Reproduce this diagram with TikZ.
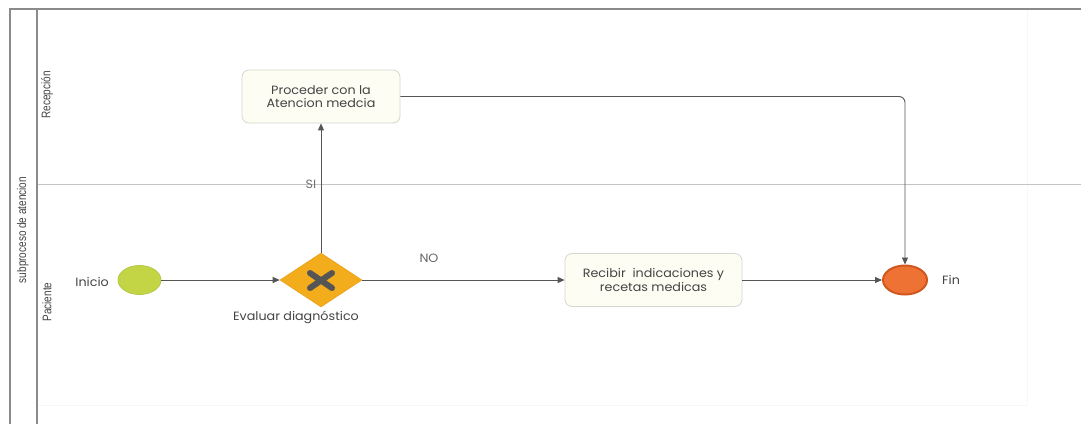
\documentclass[tikz,border=0pt]{standalone}
\usepackage{fontspec}
\setmainfont[FakeStretch=1.06]{Poppins}
\newfontfamily\lanefont[FakeStretch=0.8]{Liberation Sans}
\usetikzlibrary{arrows.meta,shapes.geometric}
\definecolor{linegray}{HTML}{555555}
\definecolor{framegray}{HTML}{8A8A8A}
\definecolor{lanegray}{HTML}{C4C4C4}
\definecolor{taskfill}{HTML}{FDFDF3}
\definecolor{taskdraw}{HTML}{D6D6D0}
\definecolor{startfill}{HTML}{C3D544}
\definecolor{startdraw}{HTML}{B5C74A}
\definecolor{gatefill}{HTML}{F2AC1C}
\definecolor{gatedraw}{HTML}{E8A41C}
\definecolor{endfill}{HTML}{EF7235}
\definecolor{enddraw}{HTML}{D0581E}
\definecolor{textgray}{HTML}{444444}
\tikzset{
  task/.style={draw=taskdraw, fill=taskfill, rounded corners=7pt, line width=0.8pt,
    minimum width=158pt, minimum height=53pt, align=center, text=textgray,
    font=\fontsize{12}{13.5}\selectfont, inner sep=0pt},
  startev/.style={ellipse, fill=startfill, draw=startdraw, line width=0.8pt,
    minimum width=43pt, minimum height=29pt, inner sep=0pt},
  endev/.style={ellipse, fill=endfill, draw=enddraw, line width=2pt,
    minimum width=44pt, minimum height=29pt, inner sep=0pt},
  gateway/.style={diamond, fill=gatefill, draw=gatedraw, line width=0.6pt,
    minimum width=82pt, minimum height=54pt, aspect=1.52, inner sep=0pt},
  flow/.style={draw=linegray, line width=0.9pt, -{Triangle[length=7pt,width=6pt]}},
  lbl/.style={text=textgray, font=\fontsize{12}{13}\selectfont, inner sep=0pt},
  lanelbl/.style={rotate=90, text=textgray, font=\lanefont\fontsize{12.5}{13}\selectfont, inner sep=0pt},
}
\begin{document}
\begin{tikzpicture}[x=1pt,y=-1pt]
\useasboundingbox (0,0) rectangle (1081,424);
\fill[white] (0,0) rectangle (1081,424);
% faint canvas edges
\draw[draw=black!3, line width=0.6pt] (1027,9) -- (1027,405);
\draw[draw=black!3, line width=0.6pt] (37,405) -- (1027,405);
% pool and lanes
\draw[lanegray, line width=0.8pt] (37,184) -- (1081,184);
\draw[framegray, line width=1.5pt] (10,424) -- (10,9) -- (1081,9);
\draw[framegray, line width=1.5pt] (37,9) -- (37,424);
\node[lanelbl] (pool) at (23,230) {subproceso de atencion};
\node[lanelbl] (lane1) at (47,95) {Recepción};
\node[lanelbl] (lane2) at (47,302) {Paciente};

% flow objects
\node[startev] (inicio) at (139.5,280) {};
\node[lbl, anchor=east] (inicioL) at (109,282) {Inicio};
\node[gateway] (gw) at (321,280) {};
\draw[line width=6pt, draw=linegray, line cap=round] (310,273) -- (332,288) (310,288) -- (332,273);
\node[lbl] (gwL) at (296,317) {Evaluar diagnóstico};
\node[task] (proceder) at (321,96.5) {Proceder con la\\Atencion medcia};
\node[task, minimum width=177pt] (recibir) at (653.5,280) {Recibir\ \ indicaciones y\\recetas medicas};
\node[endev] (fin) at (905,280) {};
\node[lbl, anchor=west] (finL) at (942,279.5) {Fin};

% sequence flows
\draw[flow] (inicio) -- (gw);
\draw[flow] (gw.north) -- (proceder.south);
\node[lbl, text=black!55] (si) at (311,184) {SI};
\draw[flow] (gw.east) -- (recibir.west);
\node[lbl, text=black!60] (no) at (429,258) {NO};
\draw[flow] (recibir.east) -- (fin.west);
\draw[flow, rounded corners=6pt] (proceder.east) -- (fin.north |- proceder.east) -- (fin.north);
\end{tikzpicture}
\end{document}
